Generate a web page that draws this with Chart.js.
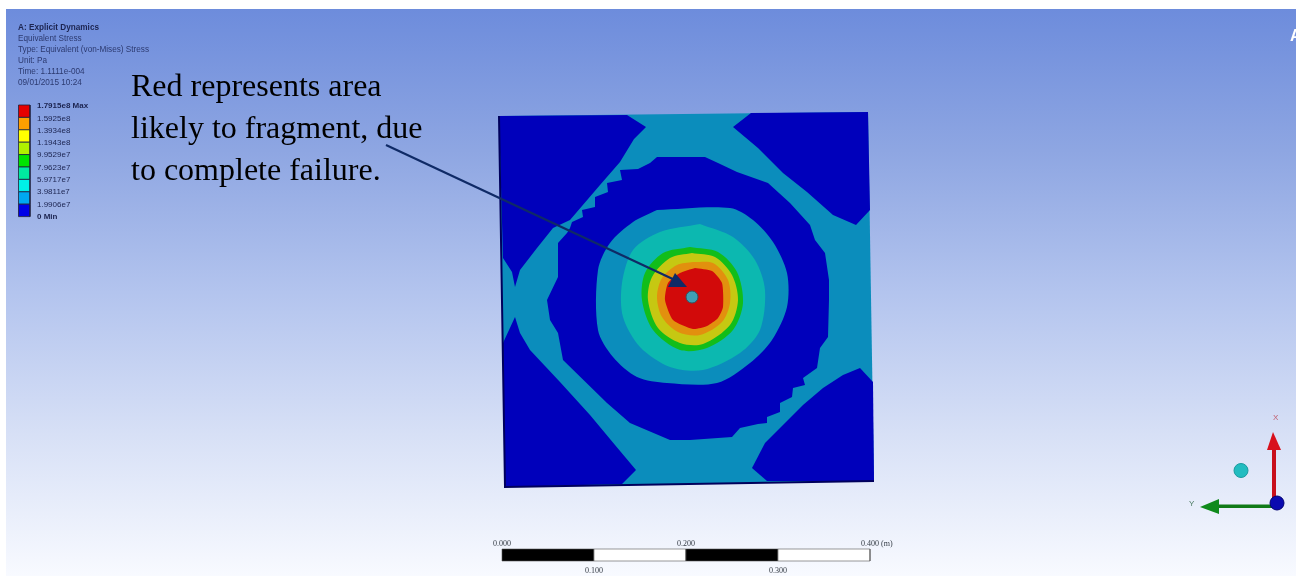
<!DOCTYPE html>
<html lang="en">
<head>
<meta charset="UTF-8">
<title>Explicit Dynamics - Equivalent Stress</title>
<script src="https://cdn.jsdelivr.net/npm/chart.js"></script>
<style>
  html, body { margin: 0; padding: 0; background: #fff; overflow: hidden; }
  #bg { position: absolute; left: 6px; top: 9px; width: 1290px; height: 567px;
        background: linear-gradient(180deg, #6d8cdc 0%, #8ea6e2 25%, #b3c4ee 50%, #d7e0f6 75%, #f8faff 100%); }
  #wrap { position: absolute; left: 0; top: 0; width: 1296px; height: 576px; }
  #plate { filter: blur(0.4px); }
</style>
</head>
<body>
<div id="bg"></div>
<div id="wrap"><canvas id="plate" width="1296" height="576"></canvas></div>
<script>
  // contour outlines, x across and y down
  var plateOutline = [[499,116],[868,112],[874,481],[505,487]]
  var cornerTL = [[499,116],[627,115],[646,127],[634,139],[620,162],[600,185],[570,220],[553,228],[537,248],[520,270],[515,287],[512,272],[503,258]]
  var cornerTR = [[751,113],[868,112],[870,210],[856,225],[833,215],[807,192],[783,173],[758,148],[733,127]]
  var cornerBR = [[860,368],[873,382],[874,481],[767,481],[752,468],[765,443],[780,428],[803,405],[823,388],[843,375]]
  var cornerBL = [[503,343],[515,317],[520,333],[530,350],[560,382],[590,415],[615,445],[636,470],[622,484],[505,487]]
  var ringBlue = [[690,157],[705,157],[718,163],[737,172],[768,183],[790,203],[810,225],[815,240],[825,253],[829,280],[829,300],[828,337],[820,348],[817,368],[803,378],[805,385],[793,388],[792,397],[780,403],[780,412],[767,417],[767,423],[758,424],[740,428],[732,437],[690,440],[670,440],[630,423],[607,403],[563,360],[558,333],[550,320],[547,300],[558,277],[558,243],[567,233],[570,228],[572,222],[583,217],[582,210],[595,207],[595,197],[608,192],[607,183],[622,180],[620,170],[638,169],[650,163],[657,157]]
  var bandMedium = [[657,210],[730,208],[753,220],[773,242],[787,273],[787,307],[772,340],[750,363],[717,383],[667,383],[637,377],[613,357],[598,330],[598,270],[610,243],[633,222]]
  var bandTeal = [[700,224],[733,237],[755,260],[765,290],[760,330],[740,353],[703,370],[670,367],[640,347],[623,317],[622,283],[633,250],[660,232]]
  var bandGreen = [[690,247],[718,252],[737,272],[743,303],[733,330],[707,348],[680,350],[653,330],[642,300],[645,273],[663,253]]
  var bandYellow = [[692,253],[715,257],[732,275],[738,300],[730,325],[703,344],[680,343],[658,328],[648,300],[652,277],[670,258]]
  var bandOrange = [[693,262],[713,263],[728,280],[730,303],[722,322],[700,335],[678,332],[662,317],[657,297],[662,278],[677,265]]
  var bandRed = [[695,268],[712,271],[722,283],[723,307],[718,318],[707,326],[693,329],[673,320],[665,300],[668,283],[680,273]]

  // legend
  var infoLines = ['A: Explicit Dynamics', 'Equivalent Stress', 'Type: Equivalent (von-Mises) Stress', 'Unit: Pa', 'Time: 1.1111e-004', '09/01/2015 10:24']
  var legendLabels = ['1.7915e8 Max', '1.5925e8', '1.3934e8', '1.1943e8', '9.9529e7', '7.9623e7', '5.9717e7', '3.9811e7', '1.9906e7', '0 Min']
  var legendColors = ['#e60000', '#ff9f00', '#ffff00', '#b0f000', '#00e400', '#00eaa0', '#00f0e8', '#00a8f0', '#0000e6']

  // scale bar, metres
  var scaleTicks = [0, 0.1, 0.2, 0.3, 0.4]
  var scaleLabels = ['0.000', '0.100', '0.200', '0.300', '0.400 (m)']

  var noteLines = ['Red represents area', 'likely to fragment, due', 'to complete failure.']

  function toPoints(list) {
    var pts = list.map(function (p) { return { x: p[0], y: p[1] } })
    pts.push(pts[0])
    return pts
  }

  function rect(x1, y1, x2, y2) {
    return [[x1, y1], [x2, y1], [x2, y2], [x1, y2]]
  }

  var datasets = []

  function addShape(list, color, border, width, tension) {
    datasets.push({
      type: 'scatter', data: toPoints(list), showLine: true, fill: 'shape',
      backgroundColor: color, borderColor: border || color, borderWidth: width || 0,
      pointRadius: 0, tension: tension || 0
    })
  }

  function addLine(list, color, width) {
    datasets.push({
      type: 'scatter', data: list.map(function (p) { return { x: p[0], y: p[1] } }), showLine: true,
      fill: false, borderColor: color, borderWidth: width, pointRadius: 0, tension: 0
    })
  }

  function addDot(x, y, r, color, border) {
    datasets.push({
      type: 'scatter', data: [{ x: x, y: y }], showLine: false,
      pointRadius: r, backgroundColor: color, borderColor: border, borderWidth: 1
    })
  }

  // plate, painted from the outside in
  addShape(plateOutline, '#0b8dbc')
  addShape(cornerTL, '#0000bb')
  addShape(cornerTR, '#0000bb')
  addShape(cornerBR, '#0000bb')
  addShape(cornerBL, '#0000bb')
  addShape(ringBlue, '#0000bb')
  addShape(bandMedium, '#0b8dbc', null, 0, 0.3)
  addShape(bandTeal, '#0cb8b0', null, 0, 0.3)
  addShape(bandGreen, '#12bd1a', null, 0, 0.3)
  addShape(bandYellow, '#c6c812', null, 0, 0.3)
  addShape(bandOrange, '#e2900e', null, 0, 0.3)
  addShape(bandRed, '#d20a0a', null, 0, 0.2)
  addLine([[499,116],[505,487],[874,481]], '#00005c', 2)
  addDot(692, 297, 6, '#3f9fb4', '#2c5a66')

  // note arrow
  addLine([[386,145],[677,281]], '#0f2a66', 2.2)
  addShape([[675,273],[668,287],[687,287]], '#0f2a66')

  // legend bar
  legendColors.forEach(function (c, i) {
    addShape(rect(18.5, 105 + i * 12.4, 30, 105 + (i + 1) * 12.4), c, '#20203a', 0.8)
  })

  // scale bar
  for (var i = 0; i < scaleTicks.length - 1; i++) {
    addShape(rect(502 + scaleTicks[i] * 920, 549, 502 + scaleTicks[i + 1] * 920, 561), i % 2 ? '#ffffff' : '#000000', '#555555', 0.6)
  }

  // triad
  addDot(1241, 470.5, 7, '#22bcc0', '#1a9a9e')
  addShape(rect(1272, 450, 1276, 503), '#c8101c')
  addShape([[1273,432],[1267,450],[1281,450]], '#d8101c')
  addShape(rect(1219, 504.5, 1272, 508), '#107a18')
  addShape([[1200,507],[1219,499],[1219,514]], '#0f8a1c')
  addDot(1277, 503, 7, '#0a0ab0', '#000070')

  // later shapes go on top
  datasets.forEach(function (d, i) { d.order = datasets.length - i })

  var textPlugin = {
    id: 'pictureText',
    afterDraw: function (chart) {
      var ctx = chart.ctx
      var sx = chart.scales.x, sy = chart.scales.y

      function put(text, x, y, font, color, blur) {
        ctx.save()
        ctx.font = font
        ctx.fillStyle = color
        ctx.textBaseline = 'middle'
        ctx.filter = blur ? 'blur(' + blur + 'px)' : 'none'
        ctx.fillText(text, sx.getPixelForValue(x), sy.getPixelForValue(y))
        ctx.restore()
      }

      infoLines.forEach(function (t, i) {
        put(t, 18, 27.5 + i * 11.1, (i === 0 ? 'bold ' : '') + '8.2px "Liberation Sans"', i === 0 ? '#1c2450' : '#2c3a70', 0.4)
      })
      legendLabels.forEach(function (t, i) {
        var ends = i === 0 || i === legendLabels.length - 1
        put(t, 37, 106 + i * 12.3, (ends ? 'bold ' : '') + '8px "Liberation Sans"', '#1c2450', 0.4)
      })
      noteLines.forEach(function (t, i) {
        put(t, 131, 88 + i * 42, '32px "Liberation Serif"', '#000000')
      })
      scaleLabels.forEach(function (t, i) {
        var x = 493 + scaleTicks[i] * 920
        put(t, x, i % 2 ? 571 : 544, '8px "Liberation Serif"', '#333a44', 0.4)
      })
      put('X', 1273, 418, '8px "Liberation Sans"', '#c06070', 0.4)
      put('Y', 1189, 504, '8px "Liberation Sans"', '#4a7a60', 0.4)
      put('A', 1290, 37, 'bold 16px "Liberation Sans"', '#ffffff', 0.4)
    }
  }

  new Chart(document.getElementById('plate'), {
    data: { datasets: datasets },
    plugins: [textPlugin],
    options: {
      responsive: false,
      animation: false,
      devicePixelRatio: 1,
      layout: { padding: 0, autoPadding: false },
      plugins: { legend: { display: false }, tooltip: { enabled: false } },
      scales: {
        x: { type: 'linear', display: false, min: 0, max: 1296 },
        y: { type: 'linear', display: false, min: 0, max: 576, reverse: true }
      }
    }
  })
</script>
</body>
</html>
